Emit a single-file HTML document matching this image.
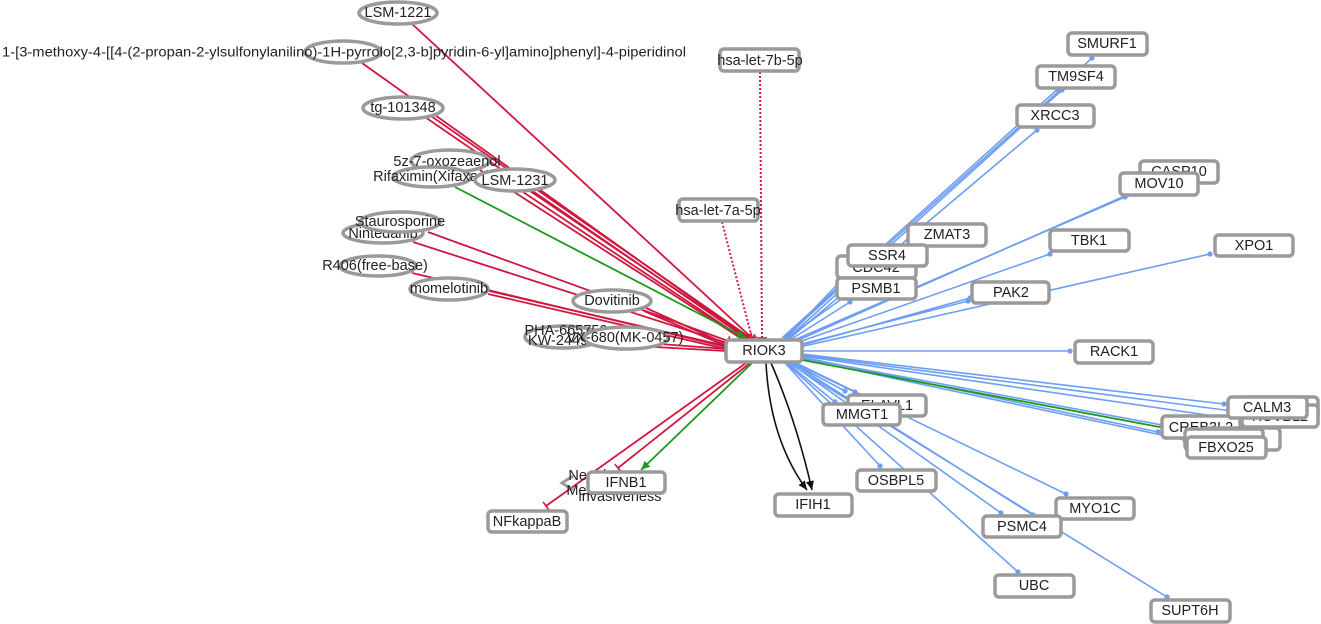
<!DOCTYPE html>
<html><head><meta charset="utf-8">
<style>
html,body{margin:0;padding:0;background:#fff;}
svg{display:block;}
text{font-family:"Liberation Sans",Arial,sans-serif;font-size:14.5px;fill:#222;text-anchor:middle;dominant-baseline:central;}
.r{fill:#fff;stroke:#9a9a9a;stroke-width:3.5;}
.e{fill:#fff;stroke:#9a9a9a;stroke-width:3.5;}
.red{stroke:#d0173f;stroke-width:1.8;fill:none;}
.blu{stroke:#6d9ef3;stroke-width:1.6;fill:none;}
.grn{stroke:#1a9a1a;stroke-width:1.8;fill:none;}
.blk{stroke:#111;stroke-width:1.6;fill:none;}
.dotr{stroke:#d0173f;stroke-width:2;stroke-dasharray:2 2;fill:none;}
</style></head>
<body>
<svg width="1321" height="624" viewBox="0 0 1321 624" xmlns="http://www.w3.org/2000/svg">
<defs>
<marker id="tee" viewBox="-2 -6 4 12" markerWidth="4" markerHeight="12" refX="0" refY="0" orient="auto" markerUnits="userSpaceOnUse"><path d="M0,-5V5" stroke="#d0173f" stroke-width="1.6"/></marker>
<marker id="dot" viewBox="-4 -4 8 8" markerWidth="7" markerHeight="7" refX="0" refY="0" orient="auto" markerUnits="userSpaceOnUse"><circle r="3" fill="#6d9ef3"/></marker>
<marker id="arK" viewBox="0 -4 9 8" markerWidth="9" markerHeight="8" refX="9" refY="0" orient="auto" markerUnits="userSpaceOnUse"><path d="M0,-4L9,0L0,4z" fill="#111"/></marker>
<marker id="arG" viewBox="0 -4 9 8" markerWidth="9" markerHeight="8" refX="9" refY="0" orient="auto" markerUnits="userSpaceOnUse"><path d="M0,-4L9,0L0,4z" fill="#1a9a1a"/></marker>
</defs>

<!-- red edges -->
<g class="red" marker-end="url(#tee)">
<path d="M411,23L752,338"/>
<path d="M362,63L748,338"/>
<path d="M425,117L746,338"/>
<path d="M431,116L749,337"/>
<path d="M480,170L742,339"/>
<path d="M520,190L744,339"/>
<path d="M527,189L748,338"/>
<path d="M428,232L728,341"/>
<path d="M413,242L727,343"/>
<path d="M412,273L726,346"/>
<path d="M488,290L726,347"/>
<path d="M488,294L726,349"/>
<path d="M646,308L726,344"/>
<path d="M644,311L726,346"/>
<path d="M660,344L726,349"/>
<path d="M655,347L726,351"/>
<path d="M750,363L618,468"/>
<path d="M746,363L546,506"/>
</g>
<path class="grn" d="M455,187L746,338" marker-end="url(#arG)"/>
<path class="grn" d="M752,363L641,470" marker-end="url(#arG)"/>
<path class="dotr" d="M760,72L762,338" marker-end="url(#tee)"/>
<path class="dotr" d="M722,222L752,338" marker-end="url(#tee)"/>
<path class="blk" d="M766,363Q770,440 807,490" marker-end="url(#arK)"/>
<path class="blk" d="M771,363Q796,420 812,490" marker-end="url(#arK)"/>

<!-- blue edges -->
<g class="blu" marker-end="url(#dot)">
<path d="M782,338L1092,58"/>
<path d="M784,338L1059,91"/>
<path d="M787,339L1062,90"/>
<path d="M789,339L1037,130"/>
<path d="M786,339L915,246"/>
<path d="M785,339L855,266"/>
<path d="M784,340L845,280"/>
<path d="M790,340L850,302"/>
<path d="M792,341L1125,197"/>
<path d="M794,342L1127,195"/>
<path d="M796,343L1050,254"/>
<path d="M798,345L968,301"/>
<path d="M799,346L970,298"/>
<path d="M800,347L1210,254"/>
<path d="M802,351L1070,351"/>
<path d="M802,354L1224,404"/>
<path d="M802,355L1240,412"/>
<path d="M802,356L1228,418"/>
<path d="M802,357L1158,432"/>
<path d="M802,358L1162,425"/>
<path d="M802,359L1185,440"/>
<path d="M790,362L845,391"/>
<path d="M792,362L855,392"/>
<path d="M786,362L835,402"/>
<path d="M785,363L880,466"/>
<path d="M786,363L1018,572"/>
<path d="M790,363L1001,513"/>
<path d="M794,362L1066,494"/>
<path d="M790,364L1167,597"/>
<path d="M792,363L1033,515"/>
</g>
<path class="grn" d="M802,360L1165,428"/>

<!-- ellipse nodes -->
<ellipse class="e" cx="398" cy="13" rx="39" ry="11"/><text x="398" y="13">LSM-1221</text>
<ellipse class="e" cx="343" cy="52" rx="38" ry="11"/>
<text x="344" y="52" textLength="684" lengthAdjust="spacingAndGlyphs" style="font-size:13.5px">1-[3-methoxy-4-[[4-(2-propan-2-ylsulfonylanilino)-1H-pyrrolo[2,3-b]pyridin-6-yl]amino]phenyl]-4-piperidinol</text>
<ellipse class="e" cx="403" cy="108" rx="40" ry="11"/><text x="403" y="108">tg-101348</text>
<ellipse class="e" cx="450" cy="161" rx="39" ry="11"/><text x="447" y="162">5z-7-oxozeaenol</text>
<ellipse class="e" cx="432" cy="177" rx="39" ry="10"/><text x="432" y="177">Rifaximin(Xifaxan)</text>
<ellipse class="e" cx="515" cy="180" rx="40" ry="11"/><text x="515" y="181">LSM-1231</text>
<ellipse class="e" cx="383" cy="233" rx="40" ry="10"/><text x="383" y="234">Nintedanib</text>
<ellipse class="e" cx="400" cy="222" rx="40" ry="10"/><text x="400" y="222">Staurosporine</text>
<ellipse class="e" cx="378" cy="266" rx="38" ry="10"/><text x="375" y="266">R406(free-base)</text>
<ellipse class="e" cx="449" cy="289" rx="39" ry="11"/><text x="449" y="289">momelotinib</text>
<ellipse class="e" cx="612" cy="301" rx="39" ry="11"/><text x="612" y="301">Dovitinib</text>
<ellipse class="e" cx="563" cy="337" rx="38" ry="11"/><text x="566" y="331">PHA-665752</text>
<text x="558" y="341">KW-2449</text>
<ellipse class="e" cx="626" cy="338" rx="42" ry="11"/><text x="625" y="338">VX-680(MK-0457)</text>

<!-- rect nodes -->
<rect class="r" x="726" y="340" width="76" height="22" rx="4"/><text x="764" y="351">RIOK3</text>
<rect class="r" x="720" y="49" width="79" height="22" rx="4"/><text x="760" y="61">hsa-let-7b-5p</text>
<rect class="r" x="679" y="199" width="79" height="22" rx="4"/><text x="718" y="211">hsa-let-7a-5p</text>
<rect class="r" x="1068" y="33" width="79" height="22" rx="4"/><text x="1107" y="44">SMURF1</text>
<rect class="r" x="1037" y="66" width="78" height="22" rx="4"/><text x="1076" y="77">TM9SF4</text>
<rect class="r" x="1017" y="105" width="77" height="22" rx="4"/><text x="1055" y="116">XRCC3</text>
<rect class="r" x="1140" y="161" width="78" height="22" rx="4"/><text x="1179" y="172">CASP10</text>
<rect class="r" x="1120" y="173" width="78" height="22" rx="4"/><text x="1159" y="184">MOV10</text>
<rect class="r" x="1050" y="230" width="79" height="21" rx="4"/><text x="1089" y="241">TBK1</text>
<rect class="r" x="1215" y="235" width="78" height="21" rx="4"/><text x="1254" y="246">XPO1</text>
<rect class="r" x="908" y="224" width="78" height="22" rx="4"/><text x="947" y="235">ZMAT3</text>
<rect class="r" x="837" y="256" width="79" height="22" rx="4"/><text x="876" y="268">CDC42</text>
<rect class="r" x="848" y="245" width="79" height="21" rx="4"/><text x="887" y="256">SSR4</text>
<rect class="r" x="837" y="278" width="79" height="21" rx="4"/><text x="876" y="289">PSMB1</text>
<rect class="r" x="972" y="282" width="77" height="21" rx="4"/><text x="1011" y="293">PAK2</text>
<rect class="r" x="1075" y="341" width="78" height="22" rx="4"/><text x="1114" y="352">RACK1</text>
<rect class="r" x="1242" y="397" width="76" height="22" rx="4"/>
<rect class="r" x="1242" y="405" width="76" height="22" rx="4"/><text x="1280" y="417">RUVBL2</text>
<rect class="r" x="1162" y="416" width="78" height="22" rx="4"/><text x="1201" y="428">CREB3L2</text>
<rect class="r" x="1202" y="428" width="78" height="22" rx="4"/>
<rect class="r" x="1185" y="429" width="78" height="21" rx="4"/>
<rect class="r" x="1228" y="397" width="79" height="21" rx="4"/><text x="1267" y="408">CALM3</text>
<rect class="r" x="1187" y="437" width="79" height="21" rx="4"/><text x="1226" y="448">FBXO25</text>
<rect class="r" x="848" y="395" width="78" height="21" rx="4"/><text x="887" y="406">ELAVL1</text>
<rect class="r" x="823" y="404" width="77" height="21" rx="4"/><text x="862" y="415">MMGT1</text>
<rect class="r" x="857" y="470" width="79" height="21" rx="4"/><text x="896" y="481">OSBPL5</text>
<rect class="r" x="1056" y="498" width="78" height="21" rx="4"/><text x="1095" y="509">MYO1C</text>
<rect class="r" x="983" y="516" width="78" height="21" rx="4"/><text x="1022" y="527">PSMC4</text>
<rect class="r" x="995" y="575" width="79" height="22" rx="4"/><text x="1034" y="586">UBC</text>
<rect class="r" x="1151" y="600" width="79" height="22" rx="4"/><text x="1190" y="611">SUPT6H</text>
<rect class="r" x="775" y="494" width="77" height="22" rx="4"/><text x="813" y="505">IFIH1</text>
<polyline points="573,476 562,483 573,490" fill="none" stroke="#9a9a9a" stroke-width="3"/>
<text x="601" y="476">Neoplasm</text>
<text x="601" y="491">Metastasis</text>
<text x="620" y="497">invasiveness</text>
<rect class="r" x="588" y="472" width="77" height="21" rx="4"/><text x="626" y="483">IFNB1</text>
<rect class="r" x="488" y="511" width="79" height="21" rx="4"/><text x="527" y="522">NFkappaB</text>
</svg>
</body></html>
